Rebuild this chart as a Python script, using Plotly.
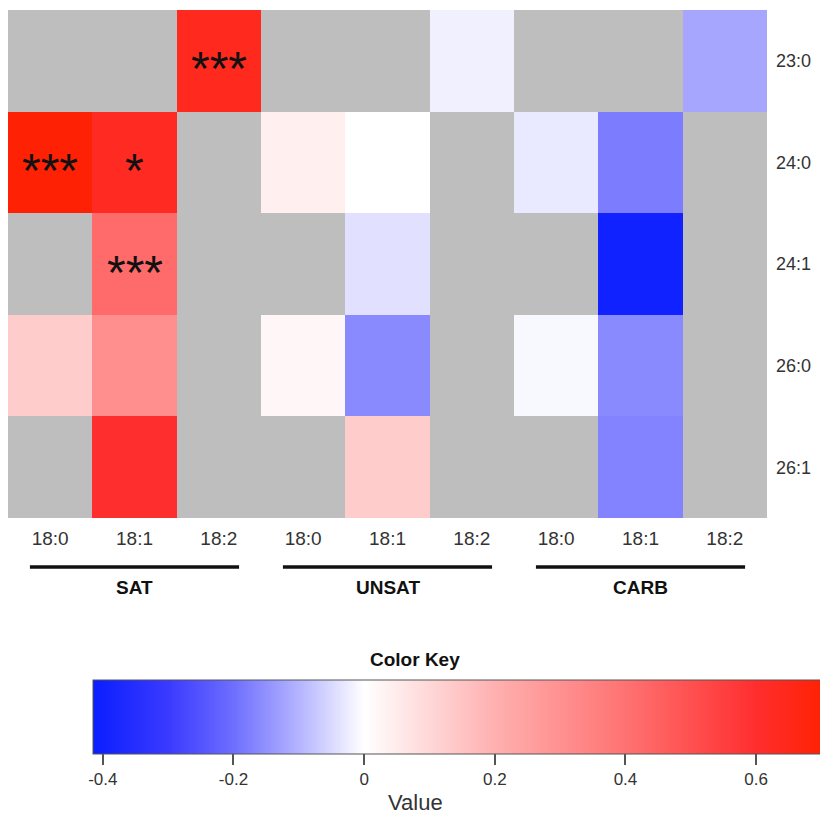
import plotly.graph_objects as go
import numpy as np

col_labels = ["18:0", "18:1", "18:2", "18:0", "18:1", "18:2", "18:0", "18:1", "18:2"]
row_labels = ["23:0", "24:0", "24:1", "26:0", "26:1"]
groups = ["SAT", "UNSAT", "CARB"]
N = None
values = [
    [N, N, 0.64, N, N, -0.02, N, N, -0.12],
    [0.70, 0.63, N, 0.04, 0.0, N, -0.03, -0.18, N],
    [N, 0.42, N, N, -0.04, N, N, -0.40, N],
    [0.13, 0.31, N, 0.02, -0.16, N, -0.01, -0.16, N],
    [N, 0.60, N, N, 0.13, N, N, -0.17, N],
]
stars = [(0, 2, "***"), (1, 0, "***"), (1, 1, "*"), (2, 1, "***")]

zmin, zmax = -0.415, 0.71
z = np.array([[np.nan if v is None else v for v in r] for r in values])


def pos(v):
    return (v - zmin) / (zmax - zmin)


colorscale = [
    [0, "#0A1EFF"],
    [pos(-0.3), "#3A3AFF"],
    [pos(-0.2), "#6E6EFF"],
    [pos(-0.1), "#B4B4FF"],
    [pos(0), "#FFFFFF"],
    [pos(0.2), "#FFB0B0"],
    [pos(0.4), "#FF7272"],
    [pos(0.6), "#FF2E2E"],
    [1, "#FF2000"],
]

W, H = 828, 814
OFF = 8  # browser body margin
x0, x1, y0, y1 = 8 - OFF, 767 - OFF, 10 - OFF, 518 - OFF
FONT = "Liberation Sans, Arial, sans-serif"


def py(page_y):
    return 1 - (page_y - OFF) / H


fig = go.Figure()
fig.add_trace(go.Heatmap(
    z=z, x=list(range(9)), y=list(range(5)),
    zmin=zmin, zmax=zmax, colorscale=colorscale, xgap=0, ygap=0,
    hoverongaps=False,
    colorbar=dict(
        orientation="h", x=(93 + 828) / 2 / W - OFF / W, xanchor="center",
        y=py(680), yanchor="top", lenmode="pixels", len=828 - 93,
        thickness=74, xpad=0, ypad=0, outlinewidth=1, outlinecolor="#555",
        tickvals=[-0.4, -0.2, 0, 0.2, 0.4, 0.6],
        ticktext=["-0.4", "-0.2", "0", "0.2", "0.4", "0.6"],
        ticks="outside", ticklen=11, tickwidth=2, tickcolor="#555",
        tickfont=dict(family=FONT, size=17, color="#333"),
    ),
))

annotations = []
for r, c, s in stars:
    annotations.append(dict(x=c, y=r, xref="x", yref="y", text=s, showarrow=False,
                            yshift=-8, font=dict(family="Liberation Sans", size=48, color="#111")))
for gi, g in enumerate(groups):
    cx = 3 * gi + 1
    annotations.append(dict(x=cx, y=py(587), xref="x", yref="paper", text="<b>" + g + "</b>",
                            showarrow=False, yanchor="middle", xanchor="center",
                            font=dict(family=FONT, size=19, color="#111")))
annotations.append(dict(x=(415 - OFF) / W, y=py(659), xref="paper", yref="paper",
                        text="<b>Color Key</b>", showarrow=False, yanchor="middle", xanchor="center",
                        font=dict(family=FONT, size=19, color="#111")))
annotations.append(dict(x=(415 - OFF) / W, y=py(802), xref="paper", yref="paper", text="Value",
                        showarrow=False, yanchor="middle", xanchor="center",
                        font=dict(family=FONT, size=22, color="#333")))

shapes = []
for gi in range(3):
    cx = 3 * gi + 1
    shapes.append(dict(type="line", xref="x", yref="paper", x0=cx - 1.24, x1=cx + 1.24,
                       y0=py(567), y1=py(567), line=dict(color="#111", width=3.5)))

fig.update_layout(
    width=W, height=H, margin=dict(l=0, r=0, t=0, b=0),
    paper_bgcolor="white", plot_bgcolor="#BEBEBE",
    xaxis=dict(domain=[x0 / W, x1 / W], range=[-0.5, 8.5], tickvals=list(range(9)), ticktext=col_labels,
               showgrid=False, zeroline=False, ticks="", ticklabelstandoff=7,
               tickfont=dict(family=FONT, size=19, color="#333"), fixedrange=True),
    yaxis=dict(domain=[1 - y1 / H, 1 - y0 / H], range=[4.5, -0.5], tickvals=list(range(5)), ticktext=row_labels,
               side="right", showgrid=False, zeroline=False, ticks="", ticklabelstandoff=8,
               tickfont=dict(family=FONT, size=18, color="#333"), fixedrange=True),
    annotations=annotations, shapes=shapes, showlegend=False,
)
fig.write_html("out.html")
